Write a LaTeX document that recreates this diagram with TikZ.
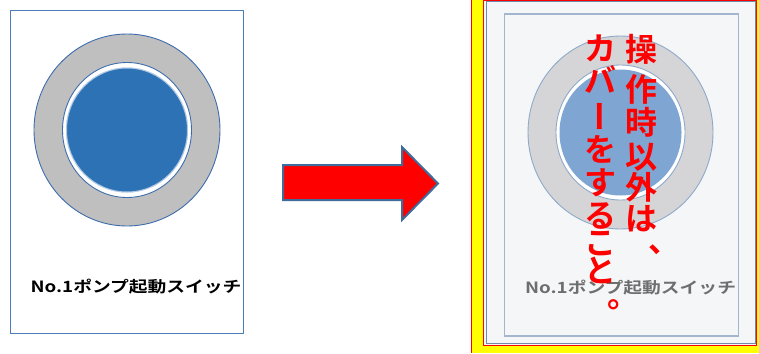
\documentclass[tikz,border=0pt]{standalone}
\usepackage{fontspec}
\newfontfamily\jp{Noto Sans CJK JP}[BoldFont={Noto Sans CJK JP Bold}]
\definecolor{frameblue}{HTML}{4A7EBB}
\definecolor{ringgray}{HTML}{BFBFBF}
\definecolor{edgeblue}{HTML}{3E6DAE}
\definecolor{discblue}{HTML}{2E72B6}
\definecolor{arrowedge}{HTML}{3F6C9A}
\definecolor{panelbg}{HTML}{F5F6F8}
\definecolor{innerframe}{HTML}{A3B6CE}
\definecolor{outerframe}{HTML}{7188A8}
\definecolor{fadegray}{HTML}{D5D5D7}
\definecolor{fadeedge}{HTML}{8EA9C9}
\definecolor{fadeblue}{HTML}{7FA6D2}
\definecolor{fadetext}{HTML}{6E6E6E}
\definecolor{ylw}{HTML}{FFFF00}
\definecolor{redtext}{HTML}{FF0000}
\begin{document}
\begin{tikzpicture}[x=1pt,y=-1pt,
  label/.style={font=\jp\bfseries\fontsize{15.5}{15.5}\selectfont, xscale=1.21, inner sep=0pt},
  vchar/.style={font=\jp\bfseries\fontsize{32}{32}\selectfont, text=redtext, inner sep=0pt, text height=28.2pt, text depth=3.8pt},
  box/.style={draw, inner sep=0pt, anchor=north west}
]
\useasboundingbox (0,0) rectangle (759,353);
\fill[white] (0,0) rectangle (759,353);

% ---- left panel ----
\node[box, draw=frameblue, line width=1pt, minimum width=233pt, minimum height=323pt] (leftbox) at (10,10) {};
\draw[fill=ringgray, draw=edgeblue, line width=0.9pt] (127,130) ellipse [x radius=93, y radius=96];
\draw[fill=white, draw=edgeblue, line width=0.9pt] (127,130) ellipse [x radius=64.5, y radius=67.5];
\fill[discblue] (127,130) ellipse [x radius=61, y radius=62.5];
\draw[white, opacity=0.6, line width=1.2pt] (127,130) ellipse [x radius=60.6, y radius=62.1];
\node[label] (lefttext) at (136,287) {No.1ポンプ起動スイッチ};

% ---- arrow ----
\filldraw[fill=red, draw=arrowedge, line width=2pt, line join=miter]
  (283,165) -- (402,165) -- (402,147) -- (438,183.5) -- (402,220) -- (402,200) -- (283,200) -- cycle;

% ---- right panel ----
\fill[ylw] (471.5,0) rectangle (759,353);
\draw[red, line width=1pt] (471.5,0) -- (471.5,353);
\fill[panelbg] (484,0) rectangle (756,345);
\draw[red, line width=0.7pt] (483.5,0.4) rectangle (756.3,345.3);
\node[box, draw=outerframe, line width=1pt, minimum width=269pt, minimum height=342pt] (rightframe) at (485.5,1.2) {};
\node[box, draw=innerframe, line width=1.6pt, minimum width=234pt, minimum height=322pt] (innerbox) at (503.5,13) {};
\draw[fill=fadegray, draw=fadeedge, line width=0.9pt] (620.5,132.5) ellipse [x radius=92.5, y radius=96.5];
\draw[fill=white, draw=fadeedge, line width=0.9pt] (620.5,132.5) ellipse [x radius=64.5, y radius=67.5];
\fill[fadeblue] (620.5,132.5) ellipse [x radius=61, y radius=63];
\node[label, text=fadetext] (righttext) at (630.5,288) {No.1ポンプ起動スイッチ};

% ---- red vertical text: right column ----
\node[vchar] (r1) at (641,49) {操};
\node[vchar] (r2) at (641,89) {作};
\node[vchar] (r3) at (641,122) {時};
\node[vchar] (r4) at (641,156) {以};
\node[vchar] (r5) at (641,187) {外};
\node[vchar] (r6) at (641,218) {は};
\node[vchar] (r7) at (664,240) {、};
% ---- left column ----
\node[vchar] (l1) at (600,48) {カ};
\node[vchar] (l2) at (600,80) {バ};
\node[vchar, rotate=-90] (l3) at (600,116) {ー};
\node[vchar] (l4) at (600,149) {を};
\node[vchar] (l5) at (600,182) {す};
\node[vchar] (l6) at (600,215) {る};
\node[vchar] (l7) at (600,242) {こ};
\node[vchar] (l8) at (600,270) {と};
\node[vchar] (l9) at (623,295) {。};
\end{tikzpicture}
\end{document}
